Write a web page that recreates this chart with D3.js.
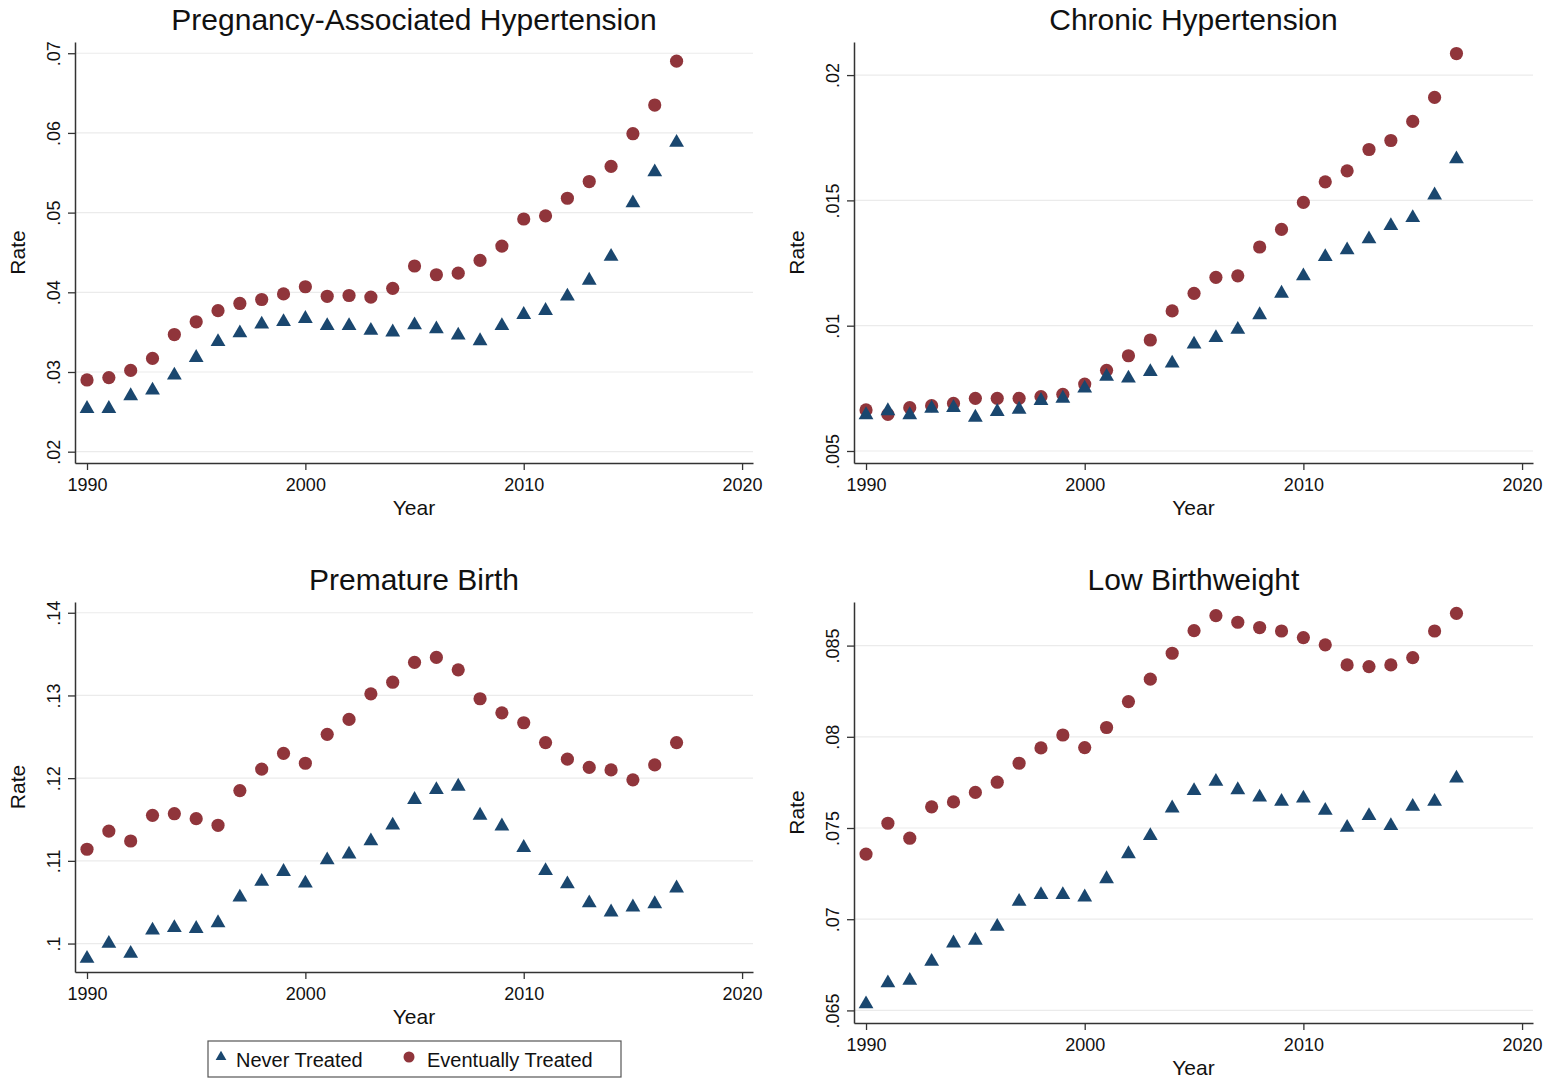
<!DOCTYPE html>
<html>
<head>
<meta charset="utf-8">
<script src="https://cdn.jsdelivr.net/npm/d3@7"></script>
<style>
  body { margin: 0; background: #fff; }
  svg { display: block; font-family: "Liberation Sans", Arial, Helvetica, sans-serif; }
</style>
</head>
<body>
<svg id="chart" width="1559" height="1080"></svg>
<script>
// years shared by all four panels
let years = [1990, 1991, 1992, 1993, 1994, 1995, 1996, 1997, 1998, 1999, 2000, 2001, 2002, 2003,
             2004, 2005, 2006, 2007, 2008, 2009, 2010, 2011, 2012, 2013, 2014, 2015, 2016, 2017];
let xTicks = [1990, 2000, 2010, 2020];

// Pregnancy-Associated Hypertension
let pahNever = [.0254, .0254, .0270, .0277, .0296, .0318, .0338, .0349, .0360, .0363, .0367, .0358, .0358, .0352,
                .0350, .0359, .0354, .0346, .0339, .0358, .0372, .0377, .0395, .0415, .0445, .0512, .0551, .0588];
let pahEver = [.0290, .0293, .0302, .0317, .0347, .0363, .0377, .0386, .0391, .0398, .0407, .0395, .0396, .0394,
               .0405, .0433, .0422, .0424, .0440, .0458, .0492, .0496, .0518, .0539, .0558, .0599, .0635, .0690];
let pahTicks = [.02, .03, .04, .05, .06, .07];
let pahLabels = [".02", ".03", ".04", ".05", ".06", ".07"];

// Chronic Hypertension
let chNever = [.00644, .0066, .00644, .0067, .00673, .00634, .00657, .00666, .00701, .0071, .0075, .00797, .0079, .00816,
               .0085, .00926, .00952, .00985, .01043, .01129, .01198, .01275, .01302, .01346, .01399, .01431, .01521, .01665];
let chEver = [.00664, .00646, .00673, .00681, .0069, .0071, .0071, .0071, .00717, .00726, .00767, .00822, .0088, .00943,
              .01059, .01129, .01193, .01199, .01314, .01384, .01492, .01574, .01618, .01703, .01739, .01815, .01911, .02086];
let chTicks = [.005, .01, .015, .02];
let chLabels = [".005", ".01", ".015", ".02"];

// Premature Birth
let pbNever = [.0982, .1000, .0988, .1016, .1019, .1018, .1025, .1056, .1075, .1087, .1073, .1101, .1108, .1124,
               .1143, .1174, .1186, .1190, .1155, .1142, .1116, .1088, .1072, .1049, .1038, .1044, .1048, .1067];
let pbEver = [.1114, .1136, .1124, .1155, .1157, .1151, .1143, .1185, .1211, .1230, .1218, .1253, .1271, .1302,
              .1316, .1340, .1346, .1331, .1296, .1279, .1267, .1243, .1223, .1213, .1210, .1198, .1216, .1243];
let pbTicks = [.1, .11, .12, .13, .14];
let pbLabels = [".1", ".11", ".12", ".13", ".14"];

// Low Birthweight
let lbNever = [.06535, .0665, .06664, .06768, .06869, .06884, .0696, .07097, .07134, .07134, .07121, .07221, .07358, .07457,
               .07609, .07704, .07755, .07709, .07669, .07645, .07663, .07596, .07503, .07567, .07512, .07618, .07645, .07773];
let lbEver = [.07357, .07526, .07444, .07616, .07643, .07695, .07751, .07855, .07939, .0801, .07941, .08051, .08193, .08316,
              .08458, .08582, .08664, .08628, .08599, .0858, .08544, .08504, .08394, .08385, .08394, .08434, .0858, .08677];
let lbTicks = [.065, .07, .075, .08, .085];
let lbLabels = [".065", ".07", ".075", ".08", ".085"];

let seriesNames = ["Never Treated", "Eventually Treated"];
let navy = "#1a476f";
let maroon = "#90353b";

let panels = [
  {title: "Pregnancy-Associated Hypertension", never: pahNever, ever: pahEver, ticks: pahTicks, labels: pahLabels,
   left: 75, right: 753, top: 42, bottom: 463, yDomain: [0.01858, 0.07141]},
  {title: "Chronic Hypertension", never: chNever, ever: chEver, ticks: chTicks, labels: chLabels,
   left: 854, right: 1533, top: 42, bottom: 463, yDomain: [0.004521, 0.02132]},
  {title: "Premature Birth", never: pbNever, ever: pbEver, ticks: pbTicks, labels: pbLabels,
   left: 75, right: 753, top: 602, bottom: 972, yDomain: [0.09656, 0.1413]},
  {title: "Low Birthweight", never: lbNever, ever: lbEver, ticks: lbTicks, labels: lbLabels,
   left: 854, right: 1533, top: 602, bottom: 1023, yDomain: [0.06431, 0.08739]}
];

let svg = d3.select("#chart");
let triangle = d3.symbol().type(d3.symbolTriangle).size(95);

panels.forEach(function(p){
  let x = d3.scaleLinear().domain([1989.45, 2020.5]).range([p.left, p.right]);
  let y = d3.scaleLinear().domain(p.yDomain).range([p.bottom, p.top]);
  let g = svg.append("g");

  // gridlines
  g.selectAll("line.grid").data(p.ticks).enter().append("line")
    .attr("class", "grid")
    .attr("x1", p.left).attr("x2", p.right)
    .attr("y1", d => y(d)).attr("y2", d => y(d))
    .style("stroke", "#ebebeb").style("stroke-width", 1.2);

  // y axis
  let yAxis = d3.axisLeft(y).tickValues(p.ticks).tickSize(7).tickSizeOuter(0).tickFormat((d, i) => p.labels[i]);
  let ya = g.append("g").attr("transform", "translate(" + p.left + ",0)").call(yAxis);
  ya.select(".domain").style("stroke", "#333").style("stroke-width", 1.5);
  ya.selectAll(".tick line").style("stroke", "#333").style("stroke-width", 1.3);
  ya.selectAll(".tick text")
    .attr("x", null).attr("dy", null)
    .attr("transform", "translate(-15,0) rotate(-90)")
    .attr("text-anchor", "middle")
    .style("font-size", "18px").style("fill", "#111")
    .style("font-family", "'Liberation Sans', Arial, sans-serif");

  // x axis
  let xAxis = d3.axisBottom(x).tickValues(xTicks).tickSize(7).tickSizeOuter(0).tickFormat(d3.format("d"));
  let xa = g.append("g").attr("transform", "translate(0," + p.bottom + ")").call(xAxis);
  xa.select(".domain").style("stroke", "#333").style("stroke-width", 1.5);
  xa.selectAll(".tick line").style("stroke", "#333").style("stroke-width", 1.3);
  xa.selectAll(".tick text")
    .attr("y", 28).attr("dy", null)
    .style("font-size", "18px").style("fill", "#111")
    .style("font-family", "'Liberation Sans', Arial, sans-serif");

  // titles
  g.append("text")
    .attr("x", (p.left + p.right) / 2).attr("y", p.top - 12)
    .attr("text-anchor", "middle")
    .style("font-size", "30px").style("fill", "#111")
    .text(p.title);
  g.append("text")
    .attr("x", (p.left + p.right) / 2).attr("y", p.bottom + 52)
    .attr("text-anchor", "middle")
    .style("font-size", "21px").style("fill", "#111")
    .text("Year");
  g.append("text")
    .attr("transform", "translate(" + (p.left - 50) + "," + ((p.top + p.bottom) / 2) + ") rotate(-90)")
    .attr("text-anchor", "middle")
    .style("font-size", "21px").style("fill", "#111")
    .text("Rate");

  // eventually treated: circles
  g.selectAll("circle.ever").data(p.ever).enter().append("circle")
    .attr("class", "ever")
    .attr("cx", (d, i) => x(years[i]))
    .attr("cy", d => y(d))
    .attr("r", 6.6)
    .style("fill", maroon);

  // never treated: triangles
  g.selectAll("path.never").data(p.never).enter().append("path")
    .attr("class", "never")
    .attr("d", triangle)
    .attr("transform", (d, i) => "translate(" + x(years[i]) + "," + y(d) + ")")
    .style("fill", navy);
});

// legend
let legend = svg.append("g").attr("transform", "translate(208,1041)");
legend.append("rect")
  .attr("x", 0).attr("y", 0).attr("width", 413).attr("height", 36)
  .style("fill", "#fff").style("stroke", "#555").style("stroke-width", 1.2);
legend.append("path")
  .attr("d", d3.symbol().type(d3.symbolTriangle).size(50))
  .attr("transform", "translate(13,16)")
  .style("fill", navy);
legend.append("text").attr("x", 28).attr("y", 26)
  .style("font-size", "20px").style("fill", "#111").text(seriesNames[0]);
legend.append("circle").attr("cx", 201).attr("cy", 16).attr("r", 5.5).style("fill", maroon);
legend.append("text").attr("x", 219).attr("y", 26)
  .style("font-size", "20px").style("fill", "#111").text(seriesNames[1]);
</script>
</body>
</html>
